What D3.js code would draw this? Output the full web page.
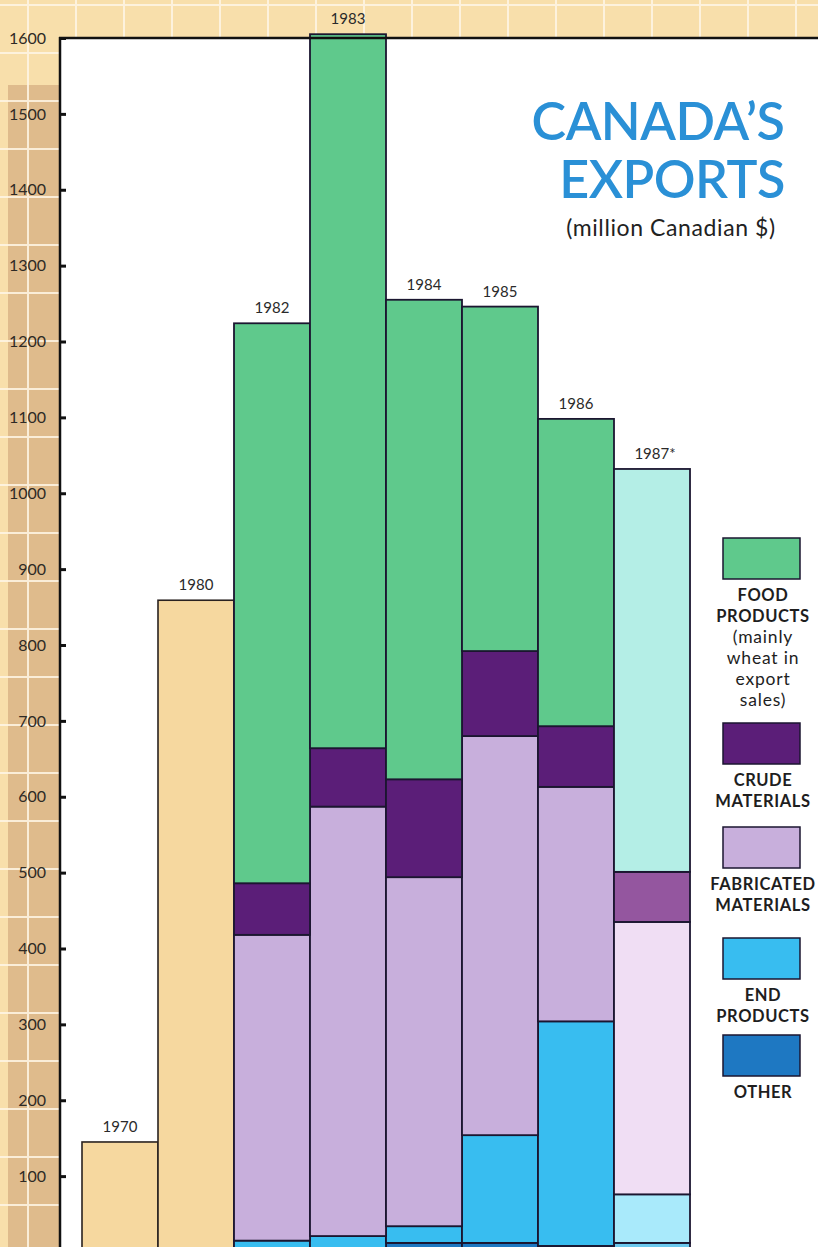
<!DOCTYPE html>
<html><head><meta charset="utf-8">
<script src="https://cdn.jsdelivr.net/npm/d3@7/dist/d3.min.js"></script>
<style>html,body{margin:0;padding:0;background:#fff;}svg{display:block;}</style>
</head><body>
<script>
// ---- data ----
const years = ["1970","1980","1982","1983","1984","1985","1986","1987"];
const yearLabels = ["1970","1980","1982","1983","1984","1985","1986","1987*"];
const totalYears = ["1970","1980"];
const totalValues = [145, 859];
const stackYears = ["1982","1983","1984","1985","1986","1987"];
const seriesKeys = ["other","end","fab","crude","food"];
const other = [3, 3, 12, 12, 8, 12];
const endProducts = [12, 18, 22, 142, 296, 64];
const fabricated = [403, 566, 460, 526, 309, 359];
const crude = [68, 77, 129, 112, 80, 66];
const food = [738, 941, 632, 454, 405, 531];
const yTicks = [100,200,300,400,500,600,700,800,900,1000,1100,1200,1300,1400,1500,1600];
const legendItems = [
  {key:"food", lines:[["FOOD",1],["PRODUCTS",1],["(mainly",0],["wheat in",0],["export",0],["sales)",0]]},
  {key:"crude", lines:[["CRUDE",1],["MATERIALS",1]]},
  {key:"fab", lines:[["FABRICATED",1],["MATERIALS",1]]},
  {key:"end", lines:[["END",1],["PRODUCTS",1]]},
  {key:"other", lines:[["OTHER",1]]}
];

// ---- styles ----
const colors = {food:"#5fc98c", crude:"#5b1e78", fab:"#c8afdc", end:"#38bdf0", other:"#1e78c2"};
const paleColors = {food:"#b4eee6", crude:"#94569f", fab:"#f0def4", end:"#a9eafb", other:"#6cc9ee"};
const tan = "#f6d89f";
const W = 818, H = 1247;
const font = "Lato, 'Open Sans', sans-serif";

const svg = d3.select("body").append("svg").attr("width", W).attr("height", H);

// background grid paper
svg.append("rect").attr("width", W).attr("height", H).attr("fill", "#f8dfab");
svg.append("rect").attr("x", 8).attr("y", 85).attr("width", 52).attr("height", H-85).attr("fill", "#dfbb8c");
const grid = svg.append("g").attr("stroke", "#fff6e6").attr("stroke-width", 2).attr("opacity", 0.85);
for (let x = 28; x < W; x += 48) grid.append("line").attr("x1", x).attr("x2", x).attr("y1", 0).attr("y2", H);
for (let y = 5; y < H; y += 48) grid.append("line").attr("x1", 0).attr("x2", W).attr("y1", y).attr("y2", y);

// plot area
const y = d3.scaleLinear().domain([0, 1600]).range([1252, 38]);
const x = d3.scaleBand().domain(years).range([82, 690]).padding(0);
svg.append("rect").attr("x", 60).attr("y", 38).attr("width", W-60).attr("height", H-38).attr("fill", "#ffffff");

// title
svg.append("text").attr("x", 658).attr("y", 140).attr("text-anchor", "middle")
  .attr("font-family", font).attr("font-size", 52).attr("font-weight", 600).attr("fill", "#2a90d6")
  .attr("letter-spacing", -0.5).text("CANADA’S");
svg.append("text").attr("x", 672).attr("y", 198).attr("text-anchor", "middle")
  .attr("font-family", font).attr("font-size", 52).attr("font-weight", 600).attr("fill", "#2a90d6")
  .attr("letter-spacing", -0.5).text("EXPORTS");
svg.append("text").attr("x", 671).attr("y", 236).attr("text-anchor", "middle")
  .attr("font-family", font).attr("font-size", 23).attr("fill", "#222").attr("letter-spacing", 0.6)
  .text("(million Canadian $)");

// single total bars
const tot = totalYears.map((k,i)=>({year:k, value:totalValues[i]}));
svg.append("g").selectAll("rect").data(tot).join("rect")
  .attr("x", d=>x(d.year)).attr("width", x.bandwidth())
  .attr("y", d=>y(d.value)).attr("height", d=>y(0)-y(d.value))
  .attr("fill", tan).attr("stroke", "#2a2220").attr("stroke-width", 1.6);

// stacked bars
const table = stackYears.map((k,i)=>({year:k, other:other[i], end:endProducts[i], fab:fabricated[i], crude:crude[i], food:food[i]}));
const stacked = d3.stack().keys(seriesKeys)(table);
svg.append("g").selectAll("g").data(stacked).join("g")
  .selectAll("rect").data(s => s.map(d => ({key:s.key, d}))).join("rect")
  .attr("x", o=>x(o.d.data.year)).attr("width", x.bandwidth())
  .attr("y", o=>y(o.d[1])).attr("height", o=>y(o.d[0])-y(o.d[1]))
  .attr("fill", o => o.d.data.year === "1987" ? paleColors[o.key] : colors[o.key])
  .attr("stroke", "#1b1630").attr("stroke-width", 1.8);

// year labels
const totals = {};
tot.forEach(d=>totals[d.year]=d.value);
table.forEach(d=>totals[d.year]=seriesKeys.reduce((a,k)=>a+d[k],0));
svg.append("g").selectAll("text").data(years).join("text")
  .attr("x", d=>x(d)+x.bandwidth()/2 + (d==="1987"?3:0)).attr("y", d=>y(totals[d])-10)
  .attr("text-anchor", "middle").attr("font-family", font).attr("font-size", 15).attr("fill", "#2a2a2a")
  .text((d,i)=>yearLabels[i]);

// axes frame
svg.append("line").attr("x1", 59).attr("x2", W).attr("y1", 38).attr("y2", 38).attr("stroke", "#111").attr("stroke-width", 2.5);
const axis = d3.axisLeft(y).tickValues(yTicks).tickSize(-6).tickPadding(14).tickFormat(d3.format("d"));
const ag = svg.append("g").attr("transform", "translate(60,0)").call(axis);
ag.select(".domain").remove();
ag.append("line").attr("x1", 0).attr("x2", 0).attr("y1", 37).attr("y2", H).attr("stroke", "#111").attr("stroke-width", 2.5);
ag.selectAll(".tick line").attr("stroke", "#111").attr("stroke-width", 3);
ag.selectAll(".tick text").attr("font-family", font).attr("font-size", 16).attr("fill", "#2e2a25");

// legend
const legendTops = [538, 723, 827, 938, 1035];
const lg = svg.append("g");
legendItems.forEach((it, i) => {
  const top = legendTops[i];
  lg.append("rect").attr("x", 723).attr("y", top).attr("width", 77).attr("height", 41)
    .attr("fill", colors[it.key]).attr("stroke", "#1b1630").attr("stroke-width", 1.5);
  it.lines.forEach((ln, j) => {
    lg.append("text").attr("x", 763).attr("y", top + 63 + j*21).attr("text-anchor", "middle")
      .attr("font-family", font).attr("font-size", ln[1] ? 16.5 : 17.5).attr("font-weight", ln[1] ? 700 : 400)
      .attr("letter-spacing", ln[1] ? 0.6 : 0.8)
      .attr("fill", "#1e1e1e").text(ln[0]);
  });
});
</script>
</body></html>
